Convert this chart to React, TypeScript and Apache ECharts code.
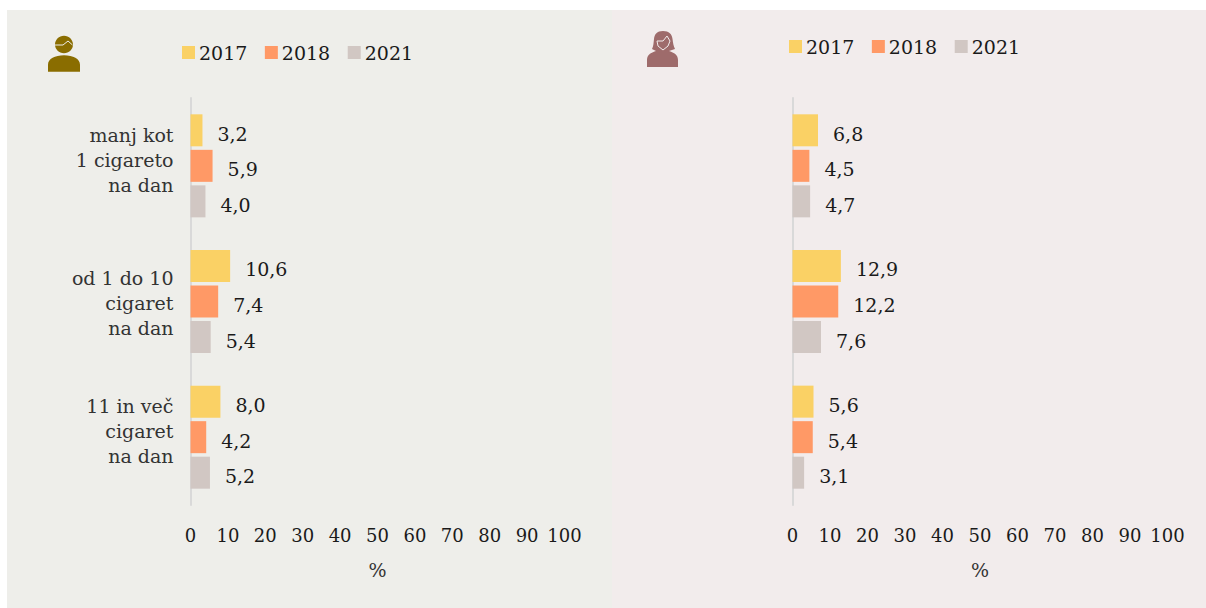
import React, { useEffect, useRef } from "react";
import * as echarts from "echarts";

const categories = ["manj kot\n1 cigareto\nna dan", "od 1 do 10\ncigaret\nna dan", "11 in več\ncigaret\nna dan"];
const emptyCategories = ["", "", ""];
const years = ["2017", "2018", "2021"];
const men2017 = [3.2, 10.6, 8.0];
const men2018 = [5.9, 7.4, 4.2];
const men2021 = [4.0, 5.4, 5.2];
const women2017 = [6.8, 12.9, 5.6];
const women2018 = [4.5, 12.2, 5.4];
const women2021 = [4.7, 7.6, 3.1];
const colors = ["#FAD165", "#FF9966", "#D1C7C3"];
const FONT = "DejaVu Serif";

const MAN_PATH = "M16 0C21 0 25 4 25 8.800C25 13.600 21 17.500 16 17.500C11 17.500 7 13.600 7 8.800C7 4 11 0 16 0ZM0 36L0 29C0 23 7 19.500 16 19.500C25 19.500 32 23 32 29L32 36Z";
const WOMAN_PATH = "M16 0C22 0 25 3 25.500 8C26 12 26.500 15 28 18L22 20C26 21.500 31 23 31 29L31 36L0 36L0 29C0 23 5 21.500 9 20L5 18C6.500 15 6.500 12 7 8C7.500 3 10 0 16 0Z";
echarts.graphic.registerShape("manIcon", echarts.graphic.extendPath(MAN_PATH, {}) as any);
echarts.graphic.registerShape("womanIcon", echarts.graphic.extendPath(WOMAN_PATH, {}) as any);

function barSeries(name: string, data: number[], color: string, axis: number) {
  return {
    type: "bar",
    name,
    data,
    xAxisIndex: axis,
    yAxisIndex: axis,
    barWidth: 32,
    barGap: "11%",
    itemStyle: { color },
    label: {
      show: true,
      position: "right",
      distance: 15,
      offset: [0, 3.5],
      color: "#1a1a1a",
      fontFamily: FONT,
      fontSize: 19,
      formatter: (p: any) => p.value.toFixed(1).replace(".", ","),
    },
  };
}

function valueAxis(gridIndex: number) {
  return {
    type: "value",
    gridIndex,
    min: 0,
    max: 100,
    interval: 10,
    name: "%",
    nameLocation: "middle",
    nameGap: 55,
    nameTextStyle: { color: "#333", fontFamily: FONT, fontSize: 19 },
    axisLine: { show: false },
    axisTick: { show: false },
    splitLine: { show: false },
    axisLabel: { color: "#1a1a1a", fontFamily: FONT, fontSize: 18, margin: 21, hideOverlap: false },
  };
}

// Spacer lines nudge each three-line label up or down beside its bars.
function shiftedLabel(value: string, index: number) {
  if (!value) return "";
  if (index === 1) return "{down| }\n" + value;
  return value + "\n{up| }";
}

function categoryAxis(gridIndex: number, data: string[]) {
  return {
    type: "category",
    gridIndex,
    data,
    inverse: true,
    axisLine: { show: true, lineStyle: { color: "#D9D9D9", width: 2 } },
    axisTick: { show: false },
    axisLabel: {
      color: "#333",
      fontFamily: FONT,
      fontSize: 19,
      lineHeight: 25,
      margin: 17,
      align: "right",
      formatter: shiftedLabel,
      rich: {
        up: { fontSize: 1, lineHeight: 12 },
        down: { fontSize: 1, lineHeight: 3 },
      },
    },
  };
}

function legend(left: number, top: number) {
  return {
    left,
    top,
    data: years,
    itemWidth: 13,
    itemHeight: 13,
    itemGap: 17.5,
    icon: "rect",
    padding: 0,
    selectedMode: false,
    textStyle: { color: "#1a1a1a", fontFamily: FONT, fontSize: 19, padding: [0, 0, 0, -1] },
  };
}

export default function App() {
  const ref = useRef<HTMLDivElement>(null);
  useEffect(() => {
    const chart = echarts.init(ref.current!, undefined, { renderer: "svg" });
    chart.setOption({
      animation: false,
      backgroundColor: "#fff",
      graphic: [
        { type: "rect", z: -10, shape: { x: 7, y: 10, width: 605, height: 598 }, style: { fill: "#EEEEEA" } },
        { type: "rect", z: -10, shape: { x: 612, y: 10, width: 594, height: 598 }, style: { fill: "#F2ECEC" } },
        { type: "manIcon", x: 48, y: 35.7, style: { fill: "#8A6D00" } },
        { type: "polyline", shape: { points: [[55, 45], [63, 45], [68, 41], [72.5, 45]] }, style: { stroke: "#EEEEEA", fill: "none", lineWidth: 1 } },
        { type: "womanIcon", x: 647, y: 31, style: { fill: "#9E6B6B" } },
        { type: "polyline", shape: { points: [[657, 41], [663, 41], [667, 36], [670, 41], [668, 46], [663, 50], [658, 46], [657, 41]] }, style: { stroke: "#F2ECEC", fill: "none", lineWidth: 1 } },
      ],
      legend: [legend(182, 43), legend(789, 37)],
      grid: [
        { left: 190.5, top: 98, width: 374, height: 407 },
        { left: 792.5, top: 98, width: 375, height: 407 },
      ],
      xAxis: [valueAxis(0), valueAxis(1)],
      yAxis: [categoryAxis(0, categories), categoryAxis(1, emptyCategories)],
      series: [
        barSeries(years[0], men2017, colors[0], 0),
        barSeries(years[1], men2018, colors[1], 0),
        barSeries(years[2], men2021, colors[2], 0),
        barSeries(years[0], women2017, colors[0], 1),
        barSeries(years[1], women2018, colors[1], 1),
        barSeries(years[2], women2021, colors[2], 1),
      ],
    });
    return () => chart.dispose();
  }, []);
  return <div ref={ref} style={{ position: "absolute", left: 0, top: 0, width: 1206, height: 608 }} />;
}
